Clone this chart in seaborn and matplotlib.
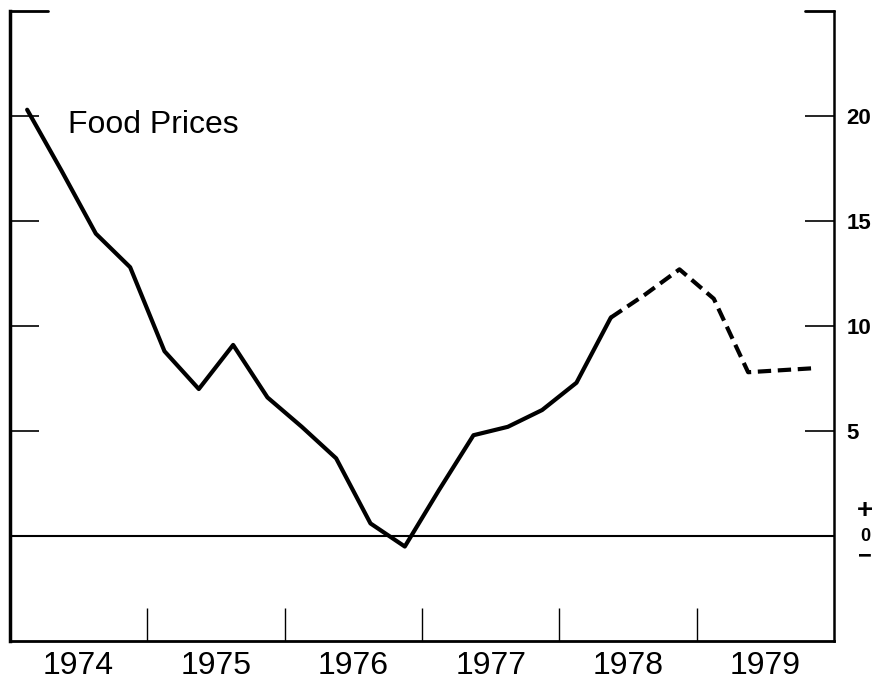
import numpy as np
import pandas as pd
import matplotlib
matplotlib.use("Agg")
import matplotlib.pyplot as plt
import matplotlib.transforms as mtransforms
import seaborn as sns

# quarterly food price change, percent
years = [1974, 1975, 1976, 1977, 1978, 1979]
quarter_pos = [0.125, 0.375, 0.625, 0.875]
food_prices = [20.3, 17.4, 14.4, 12.8,
               8.8, 7.0, 9.1, 6.6,
               5.2, 3.7, 0.6, -0.5,
               2.2, 4.8, 5.2, 6.0,
               7.3, 10.4, 11.5, 12.7,
               11.3, 7.8, 7.9, 8.0]
n_actual = 18  # last solid point is 1978 Q2, dashed after that
y_ticks = [5, 10, 15, 20]
year_labels = [str(y) for y in years]

t = [y + q for y in years for q in quarter_pos]
df = pd.DataFrame({"time": t, "value": food_prices})
df_actual = df.iloc[:n_actual]
df_proj = df.iloc[n_actual - 1:]

sns.set_style("white")
plt.rcParams["font.family"] = ["Liberation Sans", "DejaVu Sans"]
plt.rcParams.update({"text.color": "black", "xtick.color": "black",
                     "ytick.color": "black", "axes.labelcolor": "black"})

fig = plt.figure(figsize=(8.76, 6.81), dpi=100)
ax = fig.add_axes([0.0114, 0.0587, 0.9406, 0.9251])

sns.lineplot(data=df_actual, x="time", y="value", color="black", lw=3, ax=ax)
sns.lineplot(data=df_proj, x="time", y="value", color="black", lw=3, ax=ax,
             dashes=False, linestyle=(0, (3.2, 1.6)))
ax.axhline(0, color="black", lw=1.5, zorder=1)

ax.set_xlim(1974, 1980)
ax.set_ylim(-5, 25)
ax.set_xlabel("")
ax.set_ylabel("")

# spines: no full top spine, only short stubs in the corners
ax.spines["top"].set_visible(False)
for s in ["left", "right", "bottom"]:
    ax.spines[s].set_visible(True)
    ax.spines[s].set_color("black")
ax.spines["left"].set_linewidth(2.5)
ax.spines["right"].set_linewidth(1.8)
ax.spines["bottom"].set_linewidth(2)
ax.plot([0, 0.046], [1, 1], transform=ax.transAxes, color="black", lw=2, clip_on=False)
ax.plot([0.965, 1], [1, 1], transform=ax.transAxes, color="black", lw=2, clip_on=False)

# x: year boundaries as inward ticks, year labels centred in between
ax.set_xticks(years[1:])
ax.set_xticklabels([])
ax.tick_params(axis="x", which="major", direction="in", length=24, width=1, bottom=True)
ax.set_xticks([y + 0.5 for y in years], minor=True)
ax.set_xticklabels(year_labels, minor=True, fontsize=23)
ax.tick_params(axis="x", which="minor", length=0, pad=7)

# y: inward ticks on both sides, bold labels on the right
ax.set_yticks(y_ticks)
ax.set_yticklabels([str(v) for v in y_ticks], fontsize=16, fontweight="bold")
ax.tick_params(axis="y", direction="in", length=21, width=1.2,
               left=True, right=True, labelleft=False, labelright=True, pad=9)

# stacked "+ 0 -" marker at the zero line
trans = mtransforms.blended_transform_factory(ax.transAxes, ax.transData)
ax.text(1.038, 1.2, "+", transform=trans, ha="center", va="center",
        fontsize=20, fontweight="bold")
ax.text(1.038, 0.0, "0", transform=trans, ha="center", va="center",
        fontsize=13, fontweight="bold")
ax.text(1.038, -0.95, "\u2212", transform=trans, ha="center", va="center",
        fontsize=17, fontweight="bold")

ax.text(1974.42, 19.2, "Food Prices", fontsize=23)

fig.savefig("out.png", dpi=100)
